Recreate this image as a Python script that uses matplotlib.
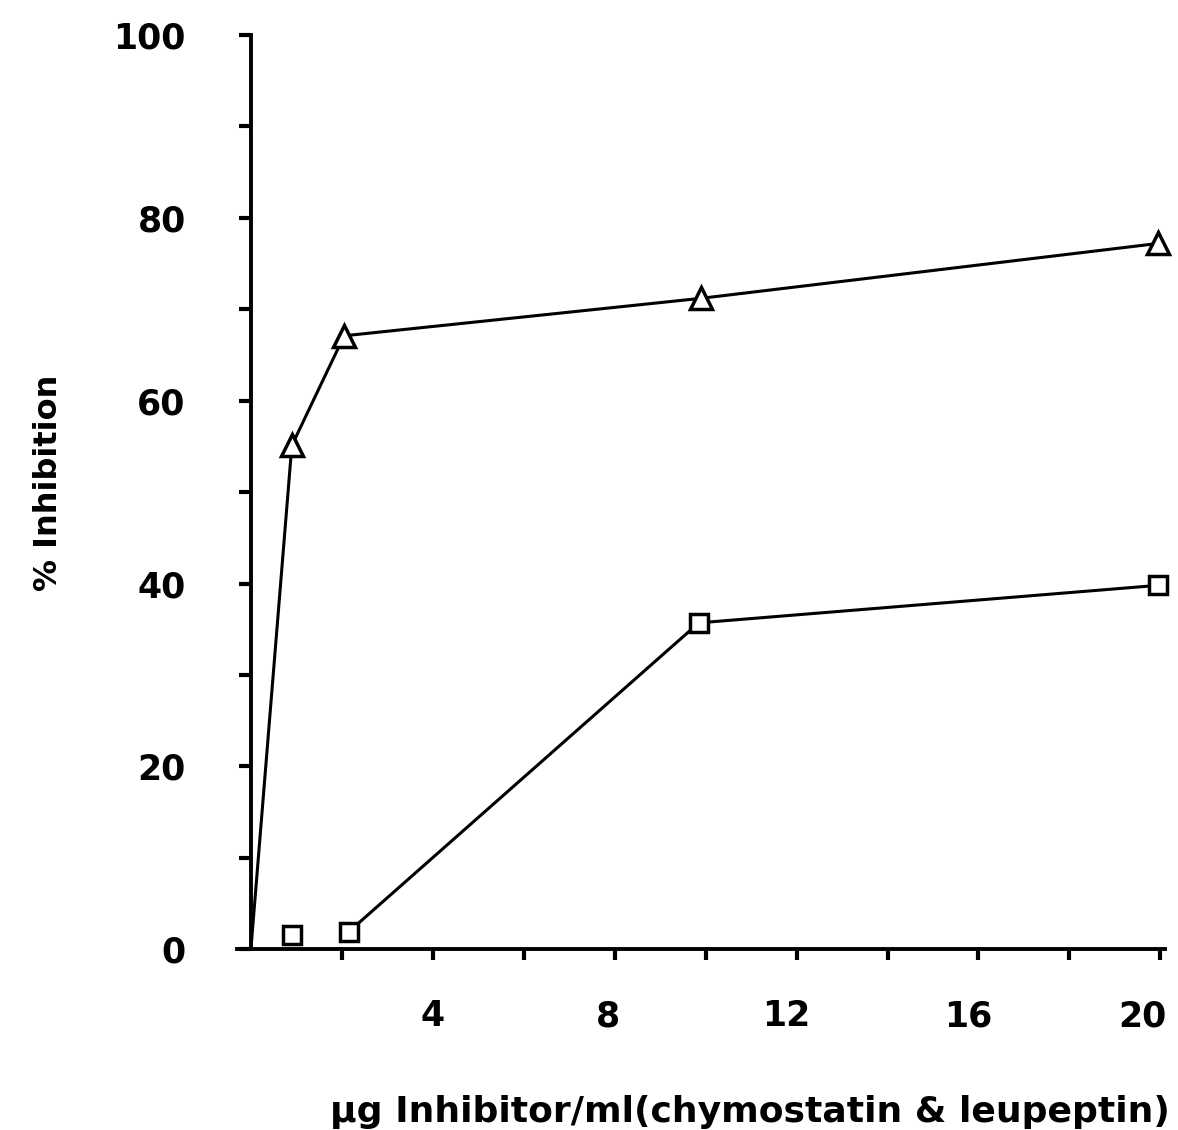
import matplotlib.pyplot as plt
import matplotlib.transforms as mtransforms
import numpy as np

# % inhibition vs inhibitor concentration
tri_x = [0, 0.9, 2.05, 9.9, 19.95]
tri_y = [0, 55.1, 67.1, 71.2, 77.2]

sq_x = [0.9, 2.15, 9.85, 19.95]
sq_y = [1.5, 1.9, 35.7, 39.8]

xticks_major = [4, 8, 12, 16, 20]
yticks_major = [0, 20, 40, 60, 80, 100]

plt.rcParams['font.family'] = ['DejaVu Sans']

fig = plt.figure(figsize=(11.78, 11.3), dpi=100)
ax = fig.add_axes([0.213, 0.160, 0.772, 0.809])

ax.plot(tri_x, tri_y, color='black', lw=2.2, marker='^', ms=16, mfc='white',
        mec='black', mew=2.5, markevery=[1, 2, 3, 4], zorder=3, clip_on=False)
# first square is left unconnected
ax.plot(sq_x[1:], sq_y[1:], color='black', lw=2.2, zorder=2, clip_on=False)
ax.plot(sq_x, sq_y, ls='none', marker='s', ms=13, mfc='white', mec='black',
        mew=2.5, zorder=3, clip_on=False)

ax.set_xlim(0, 20)
ax.set_ylim(0, 100)
ax.spines['top'].set_visible(False)
ax.spines['right'].set_visible(False)
ax.spines['left'].set_linewidth(2.8)
ax.spines['bottom'].set_linewidth(2.8)
ax.spines['bottom'].set_bounds(-0.3, 20.1)

ax.set_xticks(np.arange(2, 21, 2), minor=True)
ax.set_xticks(xticks_major)
ax.set_xticklabels([str(v) for v in xticks_major], fontsize=25, fontweight='bold')
ax.tick_params(axis='x', which='both', direction='out', length=8, width=3, pad=28)

# hand-lettered labels drift left of their ticks
shifts = [0, -7, -10, -10, -18]
for lab, dx in zip(ax.get_xticklabels(), shifts):
    lab.set_transform(lab.get_transform() +
                      mtransforms.ScaledTranslation(dx / 100, 0, fig.dpi_scale_trans))

ax.set_yticks(np.arange(10, 100, 20), minor=True)
ax.set_yticks(yticks_major)
ax.set_yticklabels([str(v) for v in yticks_major], fontsize=25, fontweight='bold')
ax.tick_params(axis='y', which='both', direction='out', length=9, width=3, pad=38)

ax.set_xlabel('μg Inhibitor/ml(chymostatin & leupeptin)', fontsize=26,
              fontweight='bold')
ax.xaxis.set_label_coords(0.549, -0.16)
ax.set_ylabel('% Inhibition', fontsize=23, fontweight='bold')
ax.yaxis.set_label_coords(-0.205, 0.51)

fig.savefig('out.png', dpi=100, facecolor='white')
